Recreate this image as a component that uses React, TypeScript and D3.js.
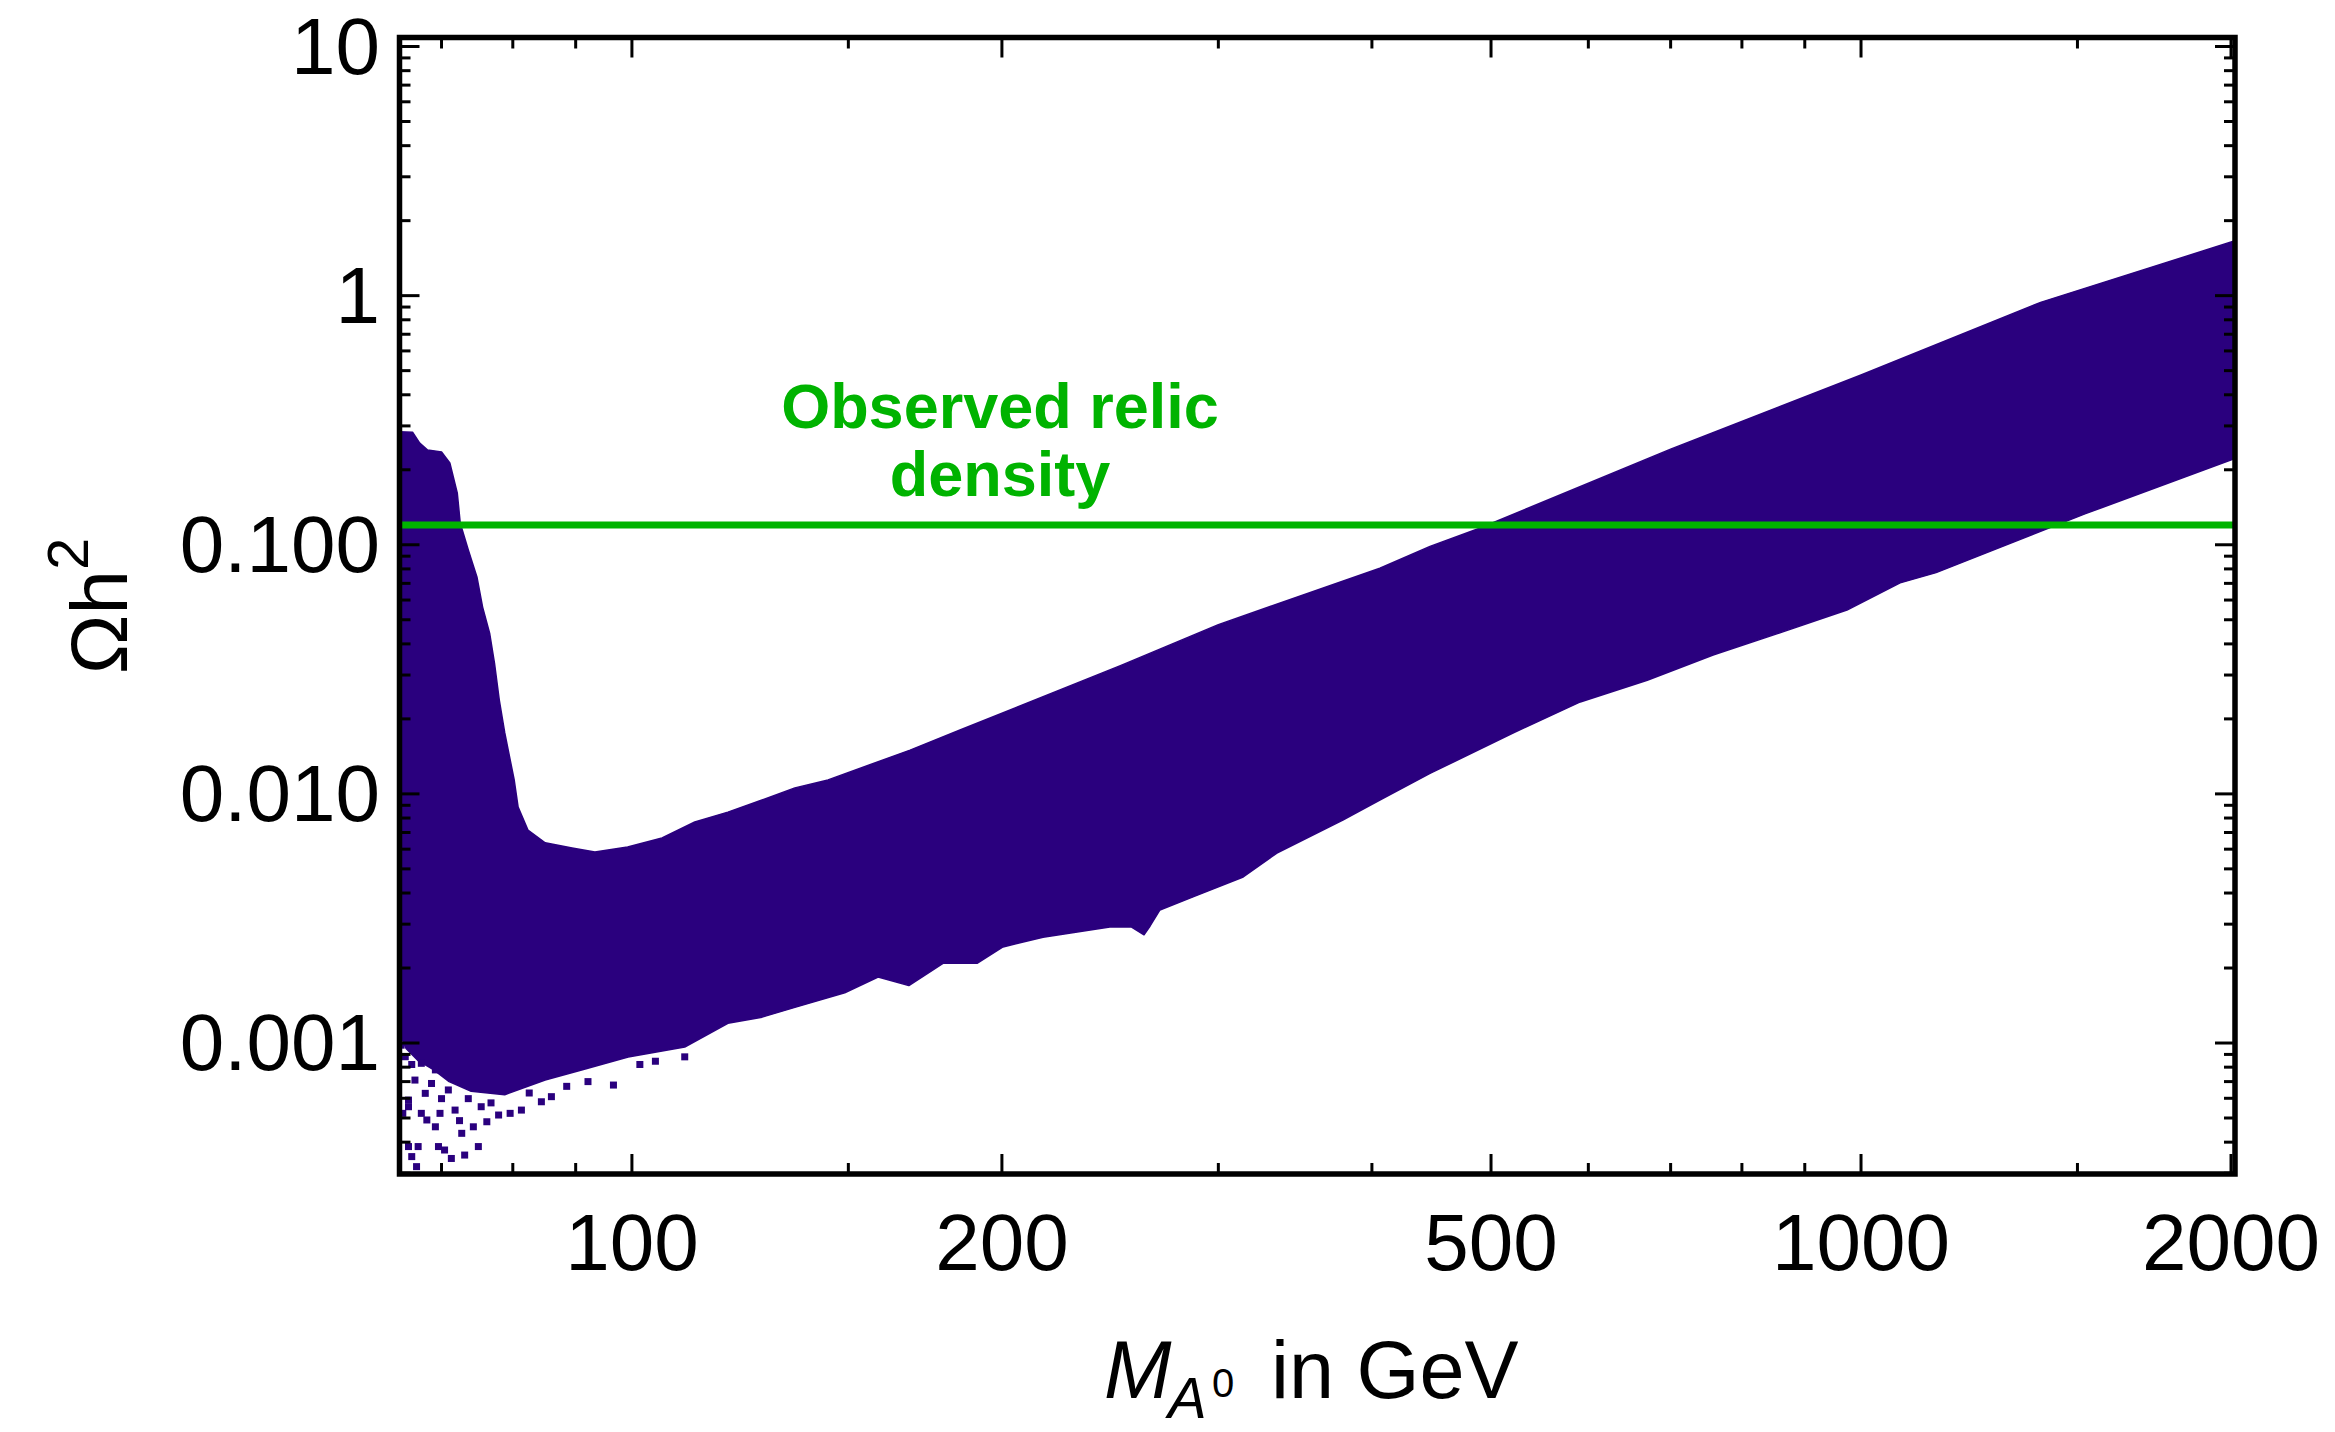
import React from 'react';
import * as d3 from 'd3';

const W = 2335;
const H = 1432;

// axis ticks
const xMajorTicks = [100, 200, 500, 1000, 2000];
const xMajorLabels = ['100', '200', '500', '1000', '2000'];
const xMinorTicks = [70, 80, 90, 150, 300, 400, 600, 700, 800, 900, 1500];
const yMajorTicks = [10, 1, 0.1, 0.01, 0.001];
const yMajorLabels = ['10', '1', '0.100', '0.010', '0.001'];
const yMinorTicks = [
  9, 8, 7, 6, 5, 4, 3, 2,
  0.9, 0.8, 0.7, 0.6, 0.5, 0.4, 0.3, 0.2,
  0.09, 0.08, 0.07, 0.06, 0.05, 0.04, 0.03, 0.02,
  0.009, 0.008, 0.007, 0.006, 0.005, 0.004, 0.003, 0.002,
  0.0009, 0.0008, 0.0007, 0.0006, 0.0005, 0.0004, 0.0003,
];

// observed relic density
const relicDensity = 0.12;

// upper envelope of the dense scan region (M_A0 [GeV], Omega h^2)
const upperEdge: [number, number][] = [
  [64.7, 0.284], [66.3, 0.283], [67.2, 0.256], [68.2, 0.24], [70.0, 0.236],
  [71.1, 0.213], [72.1, 0.161], [72.5, 0.122], [73.6, 0.0953], [74.8, 0.0743],
  [75.6, 0.0562], [76.6, 0.0442], [77.3, 0.0335], [78.0, 0.0238], [78.8, 0.0176],
  [80.2, 0.0114], [80.8, 0.00885], [82.3, 0.00716], [85.0, 0.00636], [89.4, 0.00607],
  [93.3, 0.00585], [99.2, 0.00612], [105.8, 0.00665], [112.5, 0.00771], [119.7, 0.00845],
  [127.6, 0.00945], [135.7, 0.01057], [144.4, 0.01138], [168.4, 0.01499], [184.9, 0.01805],
  [250, 0.0328], [300, 0.0478], [406, 0.0805], [446, 0.0985], [490, 0.1167],
  [700, 0.242], [1000, 0.48], [1400, 0.94], [2015, 1.66],
];

// lower envelope of the dense scan region
const lowerEdge: [number, number][] = [
  [64.7, 0.0011], [65.5, 0.00095], [67.0, 0.00085], [69.0, 0.00078], [71.0, 0.0007],
  [74.0, 0.00064], [78.8, 0.00062], [85.0, 0.00071], [91.0, 0.000779],
  [99.3, 0.000879], [110.4, 0.000964], [119.7, 0.0012], [127.6, 0.00127], [135.7, 0.00139],
  [149, 0.00159], [158.6, 0.00184], [168, 0.0017], [179.1, 0.00209], [190.9, 0.00209],
  [200.4, 0.00243], [216, 0.00266], [244.8, 0.00292], [255, 0.00292], [261, 0.00272],
  [264, 0.00295], [268.9, 0.00342], [286.1, 0.00386], [314.3, 0.00464], [334.8, 0.00579],
  [378.8, 0.00785], [406, 0.00945], [446, 0.01208], [521, 0.01756], [591, 0.0234],
  [670, 0.0286], [758, 0.0361], [859, 0.0443], [974, 0.0547], [1076, 0.0703],
  [1151, 0.0773], [1521, 0.133], [2015, 0.222],
];

// isolated scan points in the sparse low-mass corner
const sparsePoints: [number, number][] = [
  [75.0, 0.000384], [73.1, 0.000355], [70.4, 0.000372], [71.3, 0.000344], [69.6, 0.000384],
  [65.8, 0.000384], [67.0, 0.000384], [66.2, 0.00035], [66.8, 0.000319], [72.7, 0.000434],
  [74.3, 0.000461], [76.2, 0.000483], [77.9, 0.000514], [69.2, 0.000461], [68.1, 0.000491],
  [69.8, 0.000522], [92.1, 0.0007], [96.6, 0.000678], [84.4, 0.000581], [86.0, 0.000609],
  [81.3, 0.000538], [79.6, 0.000522], [66.6, 0.00071], [65.8, 0.00059], [67.4, 0.000522],
  [65.1, 0.000522], [110.4, 0.00088], [65.4, 0.000881], [67.4, 0.000829], [69.2, 0.00078],
  [70.9, 0.000648], [65.8, 0.000555], [67.9, 0.000628], [71.8, 0.000538], [73.6, 0.000598],
  [75.4, 0.000555], [64.9, 0.00098], [66.2, 0.00082], [68.7, 0.000688], [70.0, 0.000598],
  [72.4, 0.000488], [76.8, 0.000575], [82.5, 0.00063], [88.5, 0.00067], [101.5, 0.00082],
  [104.5, 0.000845],
];

const FONT = '"Liberation Sans", Arial, Helvetica, sans-serif';
const BAND = '#2a007e';
const GREEN = '#00b300';

export default function App() {
  const left = 399.5, right = 2235, top = 37.5, bottom = 1174;
  const x = d3.scaleLog().domain([64.7, 2015]).range([left, right]);
  const y = d3.scaleLog().domain([0.000298, 10.87]).range([bottom, top]);

  const poly = [...upperEdge, ...lowerEdge.slice().reverse()];
  const line = d3.line<[number, number]>().x(d => x(d[0])).y(d => y(d[1]));
  const bandPath = line(poly) + 'Z';

  const majorLen = 20;
  const minorLen = 11;
  const dot = 7;

  return (
    <svg width={W} height={H} style={{ position: 'absolute', left: 0, top: 0, background: '#fff' }}
      fontFamily={FONT}>
      <defs>
        <clipPath id="plotClip">
          <rect x={left} y={top} width={right - left} height={bottom - top} />
        </clipPath>
      </defs>
      <rect x={0} y={0} width={W} height={H} fill="#fff" />
      <g clipPath="url(#plotClip)">
        <path d={bandPath} fill={BAND} stroke={BAND} strokeWidth={1.5} strokeLinejoin="round" />
        {sparsePoints.map((p, i) => (
          <rect key={i} x={x(p[0]) - dot / 2} y={y(p[1]) - dot / 2} width={dot} height={dot} fill={BAND} />
        ))}
        <line x1={left} x2={right} y1={y(relicDensity)} y2={y(relicDensity)} stroke={GREEN} strokeWidth={7} />
      </g>

      <text x={1000} y={428} textAnchor="middle" fontWeight="bold" fontSize={63} fill={GREEN}>Observed relic</text>
      <text x={1000} y={496} textAnchor="middle" fontWeight="bold" fontSize={63} fill={GREEN}>density</text>

      {/* ticks */}
      <g stroke="#000" strokeWidth={3}>
        {xMajorTicks.map(t => (
          <g key={'xM' + t}>
            <line x1={x(t)} x2={x(t)} y1={bottom} y2={bottom - majorLen} />
            <line x1={x(t)} x2={x(t)} y1={top} y2={top + majorLen} />
          </g>
        ))}
        {xMinorTicks.map(t => (
          <g key={'xm' + t}>
            <line x1={x(t)} x2={x(t)} y1={bottom} y2={bottom - minorLen} />
            <line x1={x(t)} x2={x(t)} y1={top} y2={top + minorLen} />
          </g>
        ))}
        {yMajorTicks.map(t => (
          <g key={'yM' + t}>
            <line x1={left} x2={left + majorLen} y1={y(t)} y2={y(t)} />
            <line x1={right} x2={right - majorLen} y1={y(t)} y2={y(t)} />
          </g>
        ))}
        {yMinorTicks.map(t => (
          <g key={'ym' + t}>
            <line x1={left} x2={left + minorLen} y1={y(t)} y2={y(t)} />
            <line x1={right} x2={right - minorLen} y1={y(t)} y2={y(t)} />
          </g>
        ))}
      </g>

      <rect x={left} y={top} width={right - left} height={bottom - top} fill="none" stroke="#000" strokeWidth={5.5} />

      {/* tick labels */}
      {xMajorTicks.map((t, i) => (
        <text key={'xl' + t} x={x(t)} y={1270} textAnchor="middle" fontSize={80} fill="#000">{xMajorLabels[i]}</text>
      ))}
      {yMajorTicks.map((t, i) => (
        <text key={'yl' + t} x={380} y={y(t) + 27} textAnchor="end" fontSize={80} fill="#000">{yMajorLabels[i]}</text>
      ))}

      {/* axis titles */}
      <text transform="translate(127,606) rotate(-90)" textAnchor="middle" fontSize={80} fill="#000">
        <tspan>Ωh</tspan>
        <tspan fontSize={58} dy={-39}>2</tspan>
      </text>
      <text fill="#000">
        <tspan x={1104} y={1398} fontSize={81} fontStyle="italic">M</tspan>
        <tspan x={1168} y={1418} fontSize={58} fontStyle="italic">A</tspan>
        <tspan x={1212} y={1397} fontSize={40}>0</tspan>
        <tspan x={1271} y={1398} fontSize={81}>in GeV</tspan>
      </text>
    </svg>
  );
}
